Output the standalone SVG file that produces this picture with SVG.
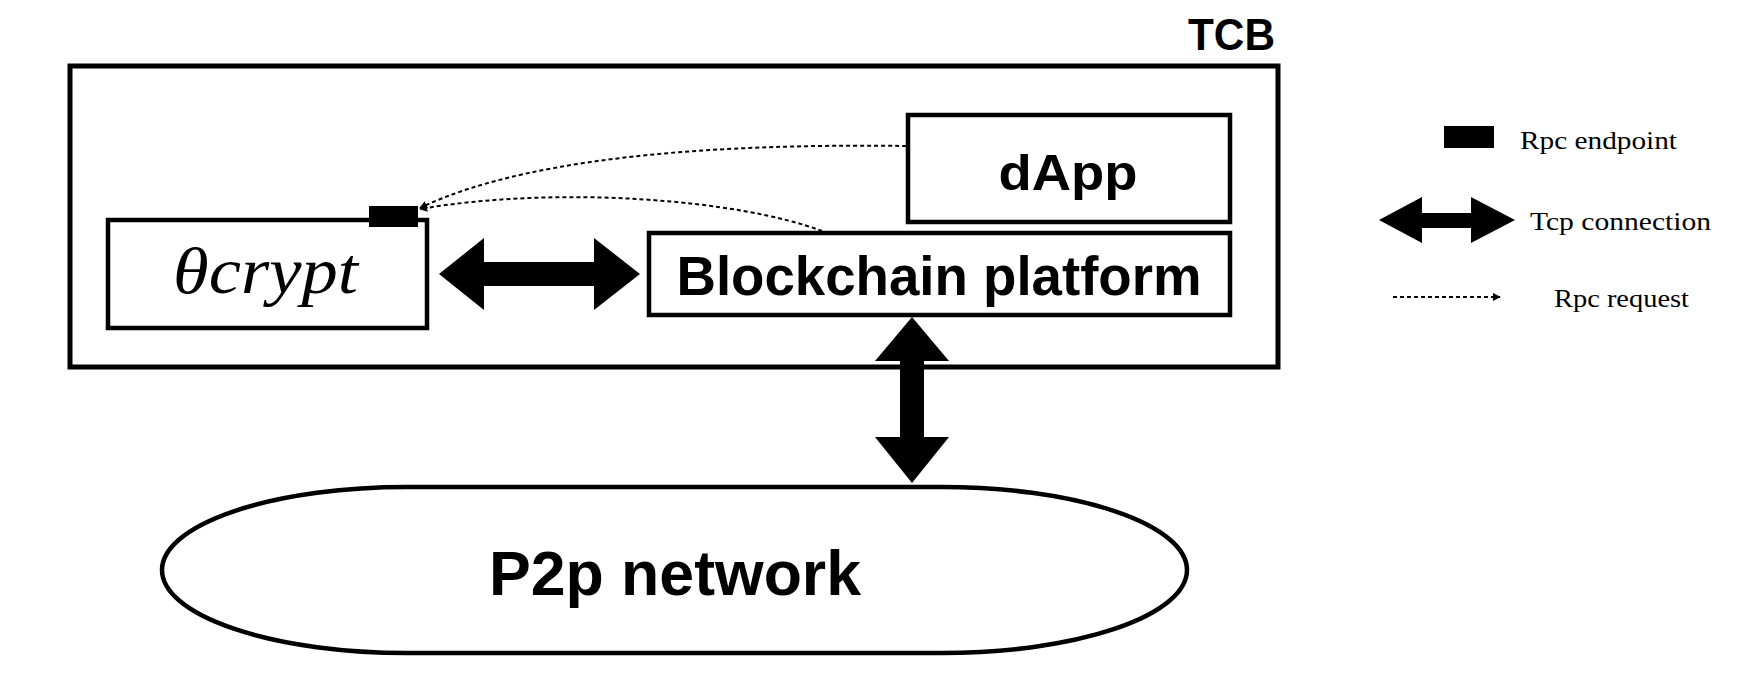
<svg xmlns="http://www.w3.org/2000/svg" width="1754" height="678" viewBox="0 0 1754 678">
<style>
.box{fill:#fff;stroke:#000;stroke-width:4.5}
.lbl{font-family:"Liberation Sans",Arial,sans-serif;font-weight:bold;fill:#000}
.leg{font-family:"Liberation Serif","Times New Roman",serif;fill:#000;font-size:25px}
.dot{fill:none;stroke:#000;stroke-width:2;stroke-dasharray:4 3}
.solid{fill:#000}
</style>
<defs>
<marker id="ah" viewBox="0 0 10 10" refX="9" refY="5" markerWidth="8" markerHeight="8" markerUnits="userSpaceOnUse" orient="auto">
<path d="M0,0 L10,5 L0,10 z" fill="#000"/>
</marker>
</defs>
<rect width="1754" height="678" fill="#fff"/>
<g id="tcb">
<rect x="70" y="66" width="1208" height="301" fill="none" stroke="#000" stroke-width="5"/>
<text class="lbl" x="1275" y="50" font-size="44" text-anchor="end" textLength="87" lengthAdjust="spacingAndGlyphs">TCB</text>
</g>
<g id="crypt">
<rect class="box" x="108" y="220" width="319" height="108"/>
<text x="173" y="293" font-family="'Liberation Serif','Times New Roman',serif" font-style="italic" font-size="66" textLength="185" lengthAdjust="spacingAndGlyphs">θcrypt</text>
<rect class="solid" x="369" y="206" width="49" height="21"/>
</g>
<g id="dapp">
<rect class="box" x="908" y="115" width="322" height="107"/>
<text class="lbl" x="1068" y="190" font-size="50" text-anchor="middle" textLength="139" lengthAdjust="spacingAndGlyphs">dApp</text>
</g>
<g id="blockchain">
<rect class="box" x="649" y="233" width="581" height="82"/>
<text class="lbl" x="939" y="295" font-size="55" text-anchor="middle" textLength="525" lengthAdjust="spacingAndGlyphs">Blockchain platform</text>
</g>
<g id="p2p">
<rect class="box" x="162" y="487" width="1025" height="166" rx="245" ry="83"/>
<text class="lbl" x="675" y="595" font-size="63" text-anchor="middle" textLength="372" lengthAdjust="spacingAndGlyphs">P2p network</text>
</g>
<g id="connectors">
<polygon class="solid" points="439,274 484,238 484,262 594,262 594,238 640,274 594,310 594,286 484,286 484,310"/>
<polygon class="solid" points="912,317 949,361 924,361 924,437 949,437 912,483 875,437 900,437 900,361 875,361"/>
<path class="dot" d="M906,146 C760,144 540,150 420,208" marker-end="url(#ah)"/>
<path class="dot" d="M822,231 C740,200 560,185 420,209" marker-end="url(#ah)"/>
</g>
<g id="legend">
<rect class="solid" x="1444" y="126" width="50" height="22"/>
<text class="leg" x="1520" y="149" textLength="157" lengthAdjust="spacingAndGlyphs">Rpc endpoint</text>
<polygon class="solid" points="1379,220 1422,197 1422,213 1471,213 1471,197 1515,220 1471,243 1471,228 1422,228 1422,243"/>
<text class="leg" x="1530" y="230" textLength="181" lengthAdjust="spacingAndGlyphs">Tcp connection</text>
<path class="dot" d="M1393,297 L1500,297" marker-end="url(#ah)"/>
<text class="leg" x="1554" y="307" textLength="135" lengthAdjust="spacingAndGlyphs">Rpc request</text>
</g>
</svg>
